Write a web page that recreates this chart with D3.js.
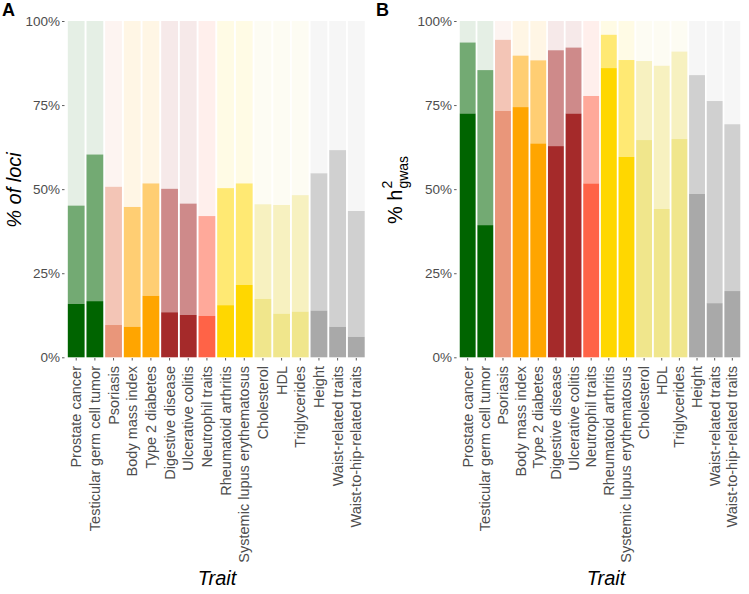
<!DOCTYPE html>
<html><head><meta charset="utf-8">
<script src="https://cdn.jsdelivr.net/npm/d3@7"></script>
<style>body{margin:0;background:#fff;} text{font-family:"Liberation Sans",Arial,sans-serif;}</style>
</head><body><svg id="chart" width="749" height="594"></svg>
<script>
const traits = ["Prostate cancer","Testicular germ cell tumor","Psoriasis","Body mass index","Type 2 diabetes","Digestive disease","Ulcerative colitis","Neutrophil traits","Rheumatoid arthritis","Systemic lupus erythematosus","Cholesterol","HDL","Triglycerides","Height","Waist-related traits","Waist-to-hip-related traits"];
const traitColors = ["#006400","#006400","#E9967A","#FFA500","#FFA500","#A52A2A","#A52A2A","#FF6347","#FFD700","#FFD700","#F0E68C","#F0E68C","#F0E68C","#A9A9A9","#A9A9A9","#A9A9A9"];
// Panel A: % of loci (cumulative tops of dark and medium segments)
const lociDark = [15.9,16.7,9.6,9.1,18.3,13.4,12.6,12.3,15.5,21.5,17.4,13.0,13.6,13.9,9.1,6.1];
const lociMid  = [45.1,60.3,50.7,44.7,51.7,50.1,45.7,42.0,50.3,51.7,45.5,45.3,48.2,54.7,61.6,43.5];
// Panel B: % h2 gwas
const h2Dark = [72.5,39.3,73.3,74.4,63.6,62.8,72.5,51.7,86.0,59.6,64.6,44.1,64.9,48.6,16.1,19.7];
const h2Mid  = [93.6,85.4,94.4,89.7,88.3,91.3,92.1,77.7,95.9,88.4,88.1,86.7,90.9,83.9,76.2,69.3];
const yTicks = [0,25,50,75,100];

const svg = d3.select("#chart");
const tickCol = "#4D4D4D";

function panel(opts){
  const g = svg.append("g");
  const x = d3.scaleBand().domain(traits).range(opts.xr).paddingInner(0.1).paddingOuter(0.15);
  const y = d3.scaleLinear().domain([0,100]).range([357.3,21]);
  const segs = [];
  traits.forEach((t,i)=>{
    segs.push({t, c:traitColors[i], y0:opts.mid[i], y1:100, op:0.1});
    segs.push({t, c:traitColors[i], y0:opts.dark[i], y1:opts.mid[i], op:0.55});
    segs.push({t, c:traitColors[i], y0:0, y1:opts.dark[i], op:1});
  });
  g.selectAll("rect.bar").data(segs).join("rect").attr("class","bar")
    .attr("x",d=>x(d.t)).attr("width",x.bandwidth())
    .attr("y",d=>y(d.y1)).attr("height",d=>y(d.y0)-y(d.y1))
    .attr("fill",d=>d.c).attr("fill-opacity",d=>d.op);
  const ya = d3.axisLeft(y).tickValues(yTicks).tickFormat(d=>d+"%").tickSize(2.5).tickPadding(2);
  const yg = g.append("g").attr("transform",`translate(${opts.xr[0]-0.5},0)`).call(ya);
  yg.select(".domain").remove();
  yg.selectAll("line").attr("stroke","#333").attr("stroke-width",0.8);
  yg.selectAll("text").attr("fill",tickCol).attr("font-size",13.5).attr("font-family","Liberation Sans, Arial, sans-serif");
  const xa = d3.axisBottom(x).tickSize(2.5).tickPadding(2);
  const xg = g.append("g").attr("transform",`translate(0,358)`).call(xa);
  xg.select(".domain").remove();
  xg.selectAll("line").attr("stroke","#333").attr("stroke-width",0.8);
  xg.selectAll("text").attr("fill",tickCol).attr("font-size",14.5).attr("font-family","Liberation Sans, Arial, sans-serif")
    .attr("transform","rotate(-90)").attr("text-anchor","end").attr("dx",0).attr("dy",0).attr("y",0).attr("x",-8)
    .style("dominant-baseline","central");
  // x title
  g.append("text").attr("x",opts.xTitleX).attr("y",585).attr("text-anchor","middle")
    .attr("font-size",20).attr("font-style","italic").attr("fill","#000").text("Trait");
  // panel label
  svg.append("text").attr("x",opts.labX).attr("y",16).attr("font-size",18).attr("font-weight","bold").attr("fill","#000").text(opts.lab);
  return g;
}

panel({xr:[65,367.5], dark:lociDark, mid:lociMid, xTitleX:217, labX:2, lab:"A"});
panel({xr:[457.1,742.9], dark:h2Dark, mid:h2Mid, xTitleX:606, labX:376, lab:"B"});

// Y titles
svg.append("text").attr("transform","translate(21,190) rotate(-90)").attr("text-anchor","middle")
  .attr("font-size",20).attr("font-style","italic").attr("fill","#000").text("% of loci");

const yb = svg.append("g").attr("transform","translate(402,190) rotate(-90)");
const t1 = yb.append("text").attr("font-size",20).attr("fill","#000").text("% h");
const w1 = t1.node().getComputedTextLength();
const sup = yb.append("text").attr("font-size",14).attr("fill","#000").attr("x",w1+1).attr("y",-10).text("2");
const sub = yb.append("text").attr("font-size",14).attr("fill","#000").attr("x",w1+1).attr("y",6).text("gwas");
const wTot = w1 + 1 + sub.node().getComputedTextLength();
[t1,sup,sub].forEach(t=>t.attr("transform",`translate(${-wTot/2},0)`));
</script></body></html>
